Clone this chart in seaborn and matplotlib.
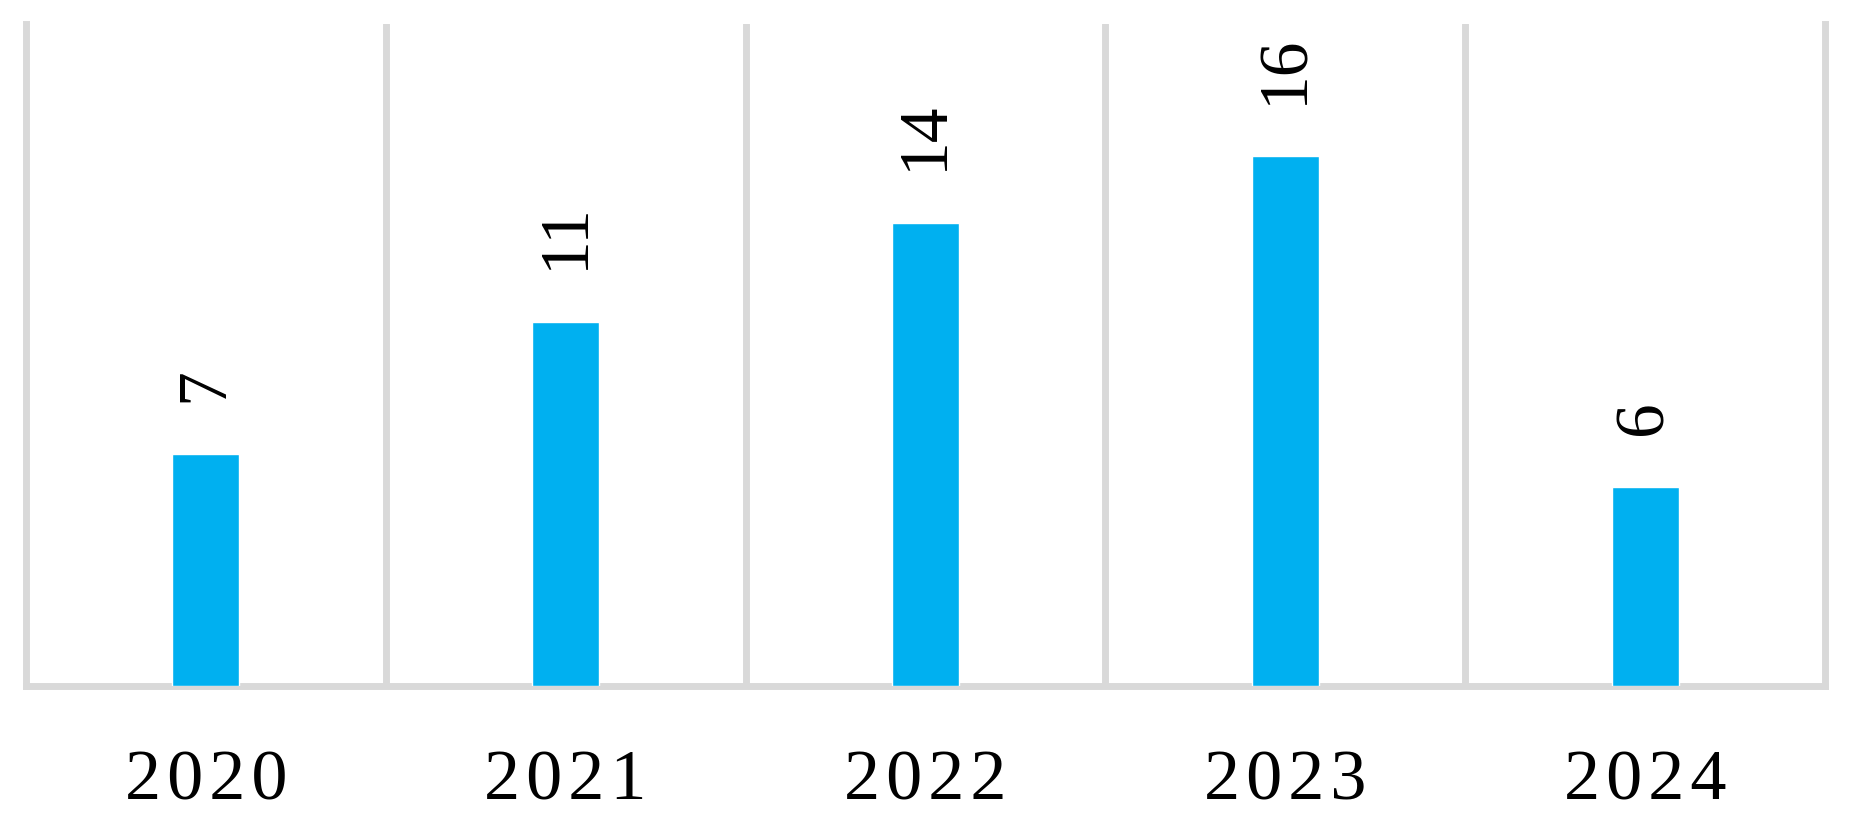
import matplotlib
matplotlib.use("Agg")
from matplotlib import pyplot as plt
import seaborn as sns
import pandas as pd

years = ["2020", "2021", "2022", "2023", "2024"]
counts = [7, 11, 14, 16, 6]

bar_color = "#00B0F0"
grid_color = "#D9D9D9"

sns.set_style("white")
plt.rcParams["font.family"] = ["Liberation Serif", "DejaVu Serif"]
plt.rcParams["text.color"] = "black"
plt.rcParams["xtick.color"] = "black"

df = pd.DataFrame({"year": years, "count": counts})

fig = plt.figure(figsize=(18.53, 8.22), dpi=100)
ax = fig.add_axes([0.01403, 0.16545, 0.97085, 0.80535])

sns.barplot(data=df, x="year", y="count", color=bar_color, saturation=1,
            width=0.186, ax=ax, zorder=3)

ax.set_xlim(-0.5, len(years) - 0.5)
ax.set_ylim(0, 20)
ax.set_yticks([])
ax.set_xlabel("")
ax.set_ylabel("")

# separators between categories
ax.set_xticks([i + 0.5 for i in range(len(years) - 1)], minor=True)
ax.grid(axis="x", which="minor", color=grid_color, linewidth=5)
ax.grid(axis="x", which="major", visible=False)
ax.tick_params(axis="x", which="both", length=0)

for side in ["left", "right", "bottom"]:
    ax.spines[side].set_color(grid_color)
    ax.spines[side].set_linewidth(5)
ax.spines["top"].set_visible(False)

ax.set_xticks(range(len(years)))
ax.set_xticklabels(["\u200a".join(y) for y in years], fontsize=52, color="black")
ax.tick_params(axis="x", which="major", pad=46)

ax.bar_label(ax.containers[0], labels=[str(c) for c in counts],
             rotation=90, padding=38, fontsize=50, color="black")

fig.savefig("out.png", dpi=100)
